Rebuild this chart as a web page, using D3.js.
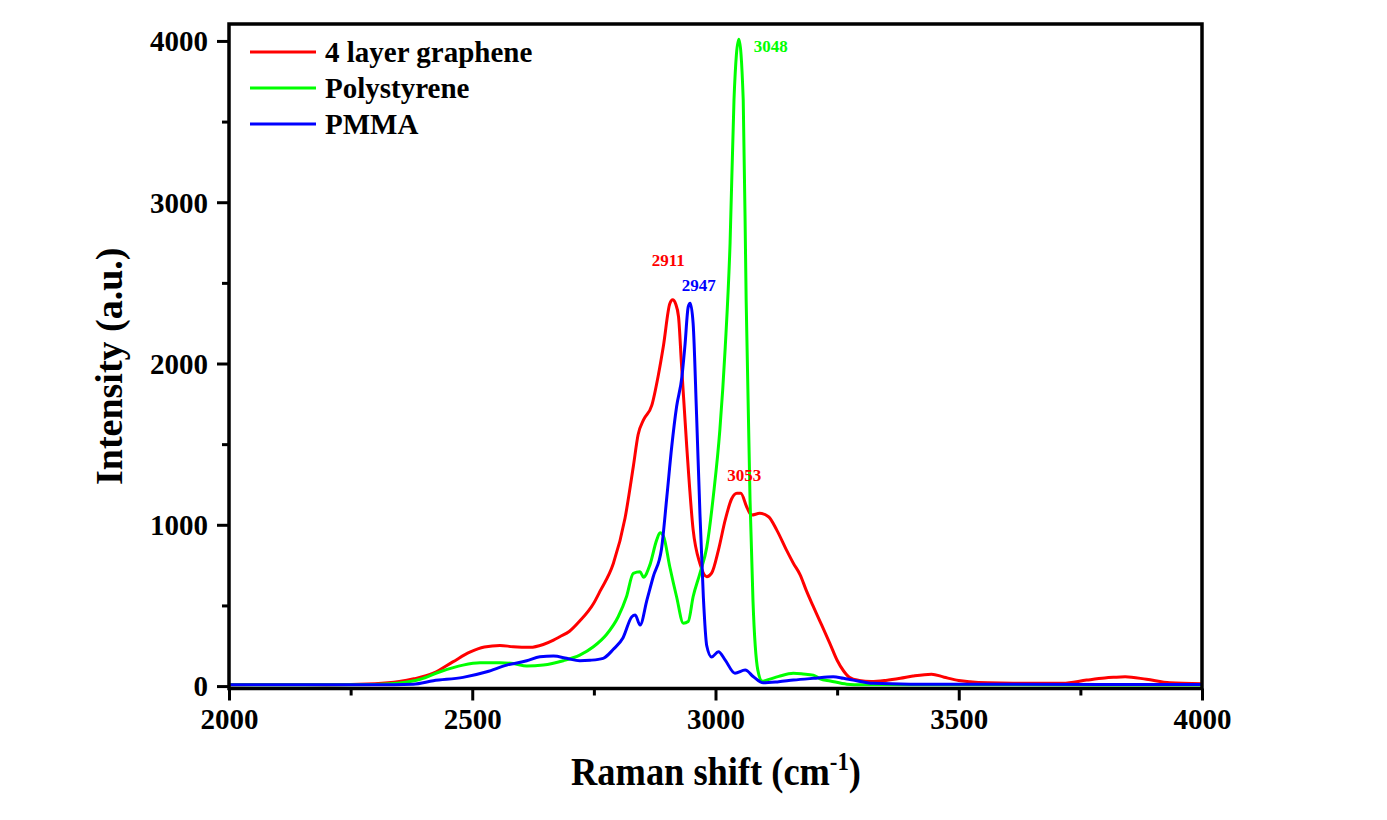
<!DOCTYPE html>
<html>
<head>
<meta charset="utf-8">
<script src="https://cdn.jsdelivr.net/npm/d3@7"></script>
<style>
  html, body { margin: 0; padding: 0; background: #fff; }
  svg { display: block; }
  text { font-family: "Liberation Serif", "Times New Roman", serif; font-weight: bold; }
</style>
</head>
<body>
<svg id="chart" width="1387" height="820"></svg>
<script>
// ---- Data ----
const seriesNames = ["4 layer graphene", "Polystyrene", "PMMA"];
const seriesColors = ["#ff0000", "#00ff00", "#0000ff"];

const grapheneShift = [2000,2100,2200,2300,2350,2380,2420,2460,2495,2525,2557,2584,2619,2646,2667,2680,2700,2720,2749,2763,2790,2814,2831,2841,2852,2869,2882,2893,2906,2912,2918,2924,2930,2941,2954,2968,2982,2992,3006,3020,3033,3044,3052,3064,3074,3091,3109,3126,3146,3160,3174,3187,3200,3215,3235,3250,3263,3275,3295,3320,3350,3380,3406,3444,3470,3500,3523,3560,3612,3714,3763,3800,3818,3842,3886,3934,4000];
const grapheneIntensity = [8,10,9,15,28,45,80,150,210,242,252,244,240,258,285,306,340,400,510,590,760,1040,1360,1560,1650,1740,1920,2110,2370,2395,2370,2290,2000,1480,970,760,678,700,843,1030,1160,1195,1195,1112,1060,1071,1050,967,843,762,690,590,500,400,265,160,95,55,35,28,35,48,62,74,55,35,27,20,17,17,37,50,54,58,42,20,15];

const polystyreneShift = [2000,2200,2300,2345,2393,2434,2481,2516,2557,2584,2612,2646,2687,2721,2749,2776,2800,2817,2831,2845,2852,2865,2879,2886,2893,2906,2920,2934,2944,2954,2968,2982,2996,3009,3020,3030,3038,3048,3057,3063,3071,3077,3087,3096,3105,3130,3160,3180,3201,3215,3236,3270,3300,3500,4000];
const polystyreneIntensity = [8,8,10,17,42,89,130,144,144,140,124,130,157,192,244,320,430,554,699,709,675,750,905,950,930,740,554,389,400,554,699,860,1190,1590,2100,2750,3634,4010,3634,2394,1153,533,99,30,37,60,79,75,68,45,32,12,8,8,6];

const pmmaShift = [2000,2300,2379,2420,2481,2530,2571,2612,2639,2667,2694,2721,2742,2769,2790,2810,2828,2835,2845,2859,2872,2889,2900,2910,2920,2931,2937,2944,2948,2954,2961,2968,2975,2982,2992,3006,3020,3040,3061,3078,3098,3130,3160,3201,3242,3263,3283,3324,3400,4000];
const pmmaIntensity = [8,8,12,33,54,89,130,157,182,186,172,157,160,172,228,300,430,440,378,533,678,850,1174,1484,1732,1918,2104,2352,2373,2249,1690,1072,554,250,180,213,161,80,99,58,20,27,37,48,58,48,37,17,12,10];

const peakLabels = ["2911", "2947", "3048", "3053"];
const peakShift = [2911, 2947, 3048, 3053];
const peakIntensity = [2395, 2373, 4010, 1195];
const peakSeries = [0, 2, 1, 0];

const xTicksMajor = [2000, 2500, 3000, 3500, 4000];
const xTicksMinor = [2250, 2750, 3250, 3750];
const yTicksMajor = [0, 1000, 2000, 3000, 4000];
const yTicksMinor = [500, 1500, 2500, 3500];

// ---- Layout ----
const pLeft = 229, pRight = 1202, pTop = 24, pBottom = 688.5;
const svg = d3.select("#chart");

const x = d3.scaleLinear().domain([2000, 4000]).range([pLeft, pRight]);
const y = d3.scaleLinear().domain([-15, 4105]).range([pBottom, pTop]);

const series = [
  grapheneShift.map((s, i) => [s, grapheneIntensity[i]]),
  polystyreneShift.map((s, i) => [s, polystyreneIntensity[i]]),
  pmmaShift.map((s, i) => [s, pmmaIntensity[i]])
];

const line = d3.line()
  .x(d => x(d[0]))
  .y(d => y(d[1]))
  .curve(d3.curveMonotoneX);

const plot = svg.append("g");
plot.append("clipPath").attr("id", "clip")
  .append("rect").attr("x", pLeft).attr("y", pTop).attr("width", pRight - pLeft).attr("height", pBottom - pTop);

const lines = plot.append("g").attr("clip-path", "url(#clip)");
[0, 1, 2].forEach(i => {
  lines.append("path")
    .datum(series[i])
    .attr("fill", "none")
    .attr("stroke", seriesColors[i])
    .attr("stroke-width", 3)
    .attr("stroke-linejoin", "round")
    .attr("d", line);
});

// ---- Axes ----
const fontTick = 29;
const xAxis = d3.axisBottom(x).tickValues(xTicksMajor).tickSize(12).tickFormat(d3.format("d"));
const xAxisMinor = d3.axisBottom(x).tickValues(xTicksMinor).tickSize(7).tickFormat("");
const yAxis = d3.axisLeft(y).tickValues(yTicksMajor).tickSize(12).tickFormat(d3.format("d"));
const yAxisMinor = d3.axisLeft(y).tickValues(yTicksMinor).tickSize(7).tickFormat("");

function styleAxis(g) {
  g.select(".domain").remove();
  g.selectAll(".tick line").attr("stroke", "#000").attr("stroke-width", 3);
  g.selectAll(".tick text")
    .attr("fill", "#000")
    .style("font-size", fontTick + "px")
    .style("font-family", '"Liberation Serif", "Times New Roman", serif')
    .style("font-weight", "bold");
}

svg.append("g").attr("transform", `translate(0,${pBottom})`).call(xAxis).call(styleAxis)
  .selectAll(".tick text").attr("y", 20).attr("dy", "0.71em");
svg.append("g").attr("transform", `translate(0,${pBottom})`).call(xAxisMinor).call(styleAxis);
svg.append("g").attr("transform", `translate(${pLeft},0)`).call(yAxis).call(styleAxis)
  .selectAll(".tick text").attr("x", -21).attr("dy", "0.34em");
svg.append("g").attr("transform", `translate(${pLeft},0)`).call(yAxisMinor).call(styleAxis);

// Frame
svg.append("rect")
  .attr("x", pLeft).attr("y", pTop)
  .attr("width", pRight - pLeft).attr("height", pBottom - pTop)
  .attr("fill", "none").attr("stroke", "#000").attr("stroke-width", 3.5);

// ---- Axis titles ----
const xTitle = svg.append("text")
  .attr("transform", `translate(716,785) scale(0.91,1)`)
  .attr("text-anchor", "middle")
  .style("font-size", "40px");
xTitle.append("tspan").text("Raman shift (cm");
xTitle.append("tspan").text("-1").attr("dy", -15).style("font-size", "25px");
xTitle.append("tspan").text(")").attr("dy", 15);

svg.append("text")
  .attr("transform", `translate(122,${(pTop + pBottom) / 2 + 10}) rotate(-90)`)
  .attr("text-anchor", "middle")
  .style("font-size", "38px")
  .text("Intensity (a.u.)");

// ---- Legend ----
const legend = svg.append("g");
seriesNames.forEach((name, i) => {
  const by = 62 + i * 36;
  legend.append("line")
    .attr("x1", 250).attr("x2", 316)
    .attr("y1", by - 10).attr("y2", by - 10)
    .attr("stroke", seriesColors[i]).attr("stroke-width", 3);
  legend.append("text")
    .attr("x", 325).attr("y", by)
    .style("font-size", "29px")
    .text(name);
});

// ---- Peak annotations ----
const labelOffsets = [[-4, -34], [9, -12], [32, 13], [3, -12]];
peakLabels.forEach((lab, i) => {
  svg.append("text")
    .attr("x", x(peakShift[i]) + labelOffsets[i][0])
    .attr("y", y(peakIntensity[i]) + labelOffsets[i][1])
    .attr("text-anchor", "middle")
    .attr("fill", seriesColors[peakSeries[i]])
    .style("font-size", "17px")
    .text(lab);
});
</script>
</body>
</html>
